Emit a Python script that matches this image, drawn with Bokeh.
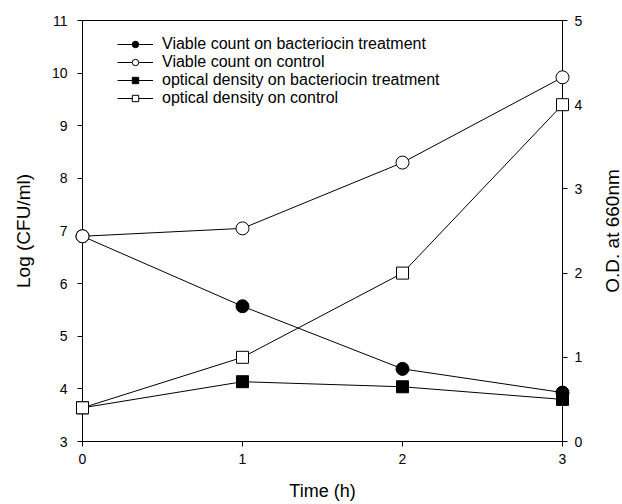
import math
from bokeh.plotting import figure
from bokeh.models import Range1d, LinearAxis, Legend, LegendItem, FixedTicker
from bokeh.core.properties import value
from bokeh.embed import file_html
from bokeh.resources import INLINE

# Data
time_h = [0, 1, 2, 3]
viable_bacteriocin = [6.9, 5.57, 4.38, 3.93]
viable_control = [6.9, 7.05, 8.3, 9.92]
od_bacteriocin = [0.4, 0.71, 0.65, 0.5]
od_control = [0.4, 1.0, 2.0, 4.0]

labels = [
    "Viable count on bacteriocin treatment",
    "Viable count on control",
    "optical density on bacteriocin treatment",
    "optical density on control",
]
x_ticks = [0, 1, 2, 3]
left_ticks = [3, 4, 5, 6, 7, 8, 9, 10, 11]
right_ticks = [0, 1, 2, 3, 4, 5]
right_title = "O.D. at 660nm"

FONT = "Liberation Sans"

p = figure(width=622, height=504, output_backend="svg", toolbar_location=None,
           x_range=Range1d(0, 3), y_range=Range1d(3, 11),
           min_border_left=82, min_border_right=60, min_border_top=20, min_border_bottom=63)
p.extra_y_ranges = {"od": Range1d(0, 5)}
p.grid.visible = False
p.outline_line_color = "black"
p.outline_line_width = 1
p.background_fill_color = "white"
p.border_fill_color = "white"

# axes styling
p.xaxis.ticker = FixedTicker(ticks=x_ticks)
p.yaxis.ticker = FixedTicker(ticks=left_ticks)
p.xaxis.axis_label = "Time (h)"
p.yaxis.axis_label = "Log (CFU/ml)"

right = LinearAxis(y_range_name="od", ticker=FixedTicker(ticks=right_ticks))
p.add_layout(right, "right")

for ax in [p.xaxis[0], p.yaxis[0], right]:
    ax.axis_line_color = "black"
    ax.major_tick_line_color = "black"
    ax.major_tick_out = 5
    ax.major_tick_in = 0
    ax.minor_tick_line_color = None
    ax.major_label_text_font = FONT
    ax.major_label_text_font_size = "14px"
    ax.major_label_text_color = "black"
    ax.axis_label_text_font = FONT
    ax.axis_label_text_font_size = "19px"
    ax.axis_label_text_font_style = "normal"
    ax.axis_label_text_color = "black"

p.xaxis.axis_label_text_font_size = "18px"
p.xaxis.major_label_standoff = 7
p.xaxis.axis_label_standoff = 14
p.yaxis.major_label_standoff = 10
p.yaxis.axis_label_standoff = 15
right.major_label_standoff = 7

# right axis title, drawn just outside the frame (overlay level is not clipped)
p.text(x=[3.315], y=[7.0], text=[right_title], angle=math.pi / 2,
       text_align="center", text_baseline="middle",
       text_font=value(FONT), text_font_size="19px", text_color="black",
       level="overlay")

# series
l1 = p.line(time_h, viable_bacteriocin, line_color="black", line_width=1)
s1 = p.scatter(time_h, viable_bacteriocin, marker="circle", size=13,
               fill_color="black", line_color="black", level="overlay")
l2 = p.line(time_h, viable_control, line_color="black", line_width=1)
s2 = p.scatter(time_h, viable_control, marker="circle", size=13,
               fill_color="white", line_color="black", level="overlay")
l3 = p.line(time_h, od_bacteriocin, line_color="black", line_width=1, y_range_name="od")
s3 = p.scatter(time_h, od_bacteriocin, marker="square", size=12,
               fill_color="black", line_color="black", y_range_name="od", level="overlay")
l4 = p.line(time_h, od_control, line_color="black", line_width=1, y_range_name="od")
s4 = p.scatter(time_h, od_control, marker="square", size=12,
               fill_color="white", line_color="black", y_range_name="od", level="overlay")

legend = Legend(items=[
    LegendItem(label=labels[0], renderers=[l1, s1]),
    LegendItem(label=labels[1], renderers=[l2, s2]),
    LegendItem(label=labels[2], renderers=[l3, s3]),
    LegendItem(label=labels[3], renderers=[l4, s4]),
], location=(35, 334))
legend.border_line_color = None
legend.background_fill_alpha = 0
legend.label_text_font = FONT
legend.label_text_font_size = "16px"
legend.label_text_color = "black"
legend.glyph_width = 36
legend.glyph_height = 16
legend.label_height = 16
legend.spacing = 0
legend.padding = 0
legend.margin = 0
legend.label_standoff = 9
p.add_layout(legend, "center")

open("out.html", "w").write(file_html(p, INLINE))
